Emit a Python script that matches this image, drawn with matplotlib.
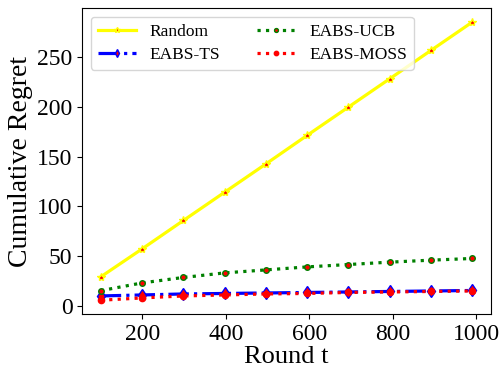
#!/usr/bin/env python3
import matplotlib
matplotlib.use("Agg")
import matplotlib.pyplot as plt

plt.rcParams['font.family'] = ['Liberation Serif', 'DejaVu Serif']

rounds = [100, 199, 298, 397, 496, 594, 693, 792, 891, 990]
regret_random = [29.2, 57.3, 85.9, 114.4, 142.9, 171.4, 199.9, 228.4, 257.0, 285.5]
regret_ts = [10.0, 11.0, 12.0, 12.5, 13.0, 13.5, 14.0, 14.5, 15.0, 15.5]
regret_ucb = [15.3, 23.1, 28.6, 33.2, 36.2, 39.2, 41.6, 44.0, 46.0, 47.7]
regret_moss = [5.7, 8.0, 10.0, 11.0, 12.0, 12.5, 13.5, 14.0, 14.5, 15.0]

fig = plt.figure(figsize=(5.04, 3.70), dpi=100)
ax = fig.add_axes([0.163, 0.151, 0.811, 0.827])

ax.plot(rounds, regret_random, color='yellow', linestyle='-', linewidth=2.3,
        marker='*', markersize=6, markerfacecolor='red', label='Random')
ax.plot(rounds, regret_ts, color='blue', linestyle='-.', linewidth=2.3,
        marker='d', markersize=6, markerfacecolor='red', label='EABS-TS')
ax.plot(rounds, regret_ucb, color='green', linestyle=':', linewidth=2.3,
        marker='o', markersize=4, markerfacecolor='red', label='EABS-UCB')
ax.plot(rounds, regret_moss, color='red', linestyle=':', linewidth=2.3,
        marker='o', markersize=4.5, markerfacecolor='red', label='EABS-MOSS')

ax.set_xticks([200, 400, 600, 800, 1000])
ax.set_yticks([0, 50, 100, 150, 200, 250])
ax.tick_params(labelsize=17)
ax.set_xlabel('Round t', fontsize=19, labelpad=1)
ax.set_ylabel('Cumulative Regret', fontsize=20, labelpad=3)
ax.legend(ncol=2, fontsize=12.5, loc='upper left', handlelength=2.2,
          handletextpad=0.8, columnspacing=2.1, borderpad=0.4,
          labelspacing=0.4, markerscale=0.7)

fig.savefig('out.png', dpi=100)
